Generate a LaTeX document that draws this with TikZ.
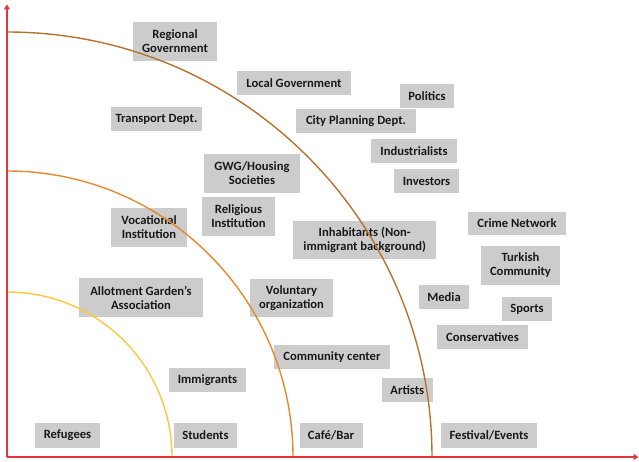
\documentclass[tikz,border=0pt]{standalone}
\usepackage{fontspec}
\setmainfont{Carlito}
\usetikzlibrary{arrows.meta}
\definecolor{boxgray}{RGB}{204,204,204}
\definecolor{txt}{RGB}{25,25,25}
\definecolor{axisred}{RGB}{230,52,60}
\definecolor{ringyellow}{RGB}{255,200,60}
\definecolor{ringorange}{RGB}{232,136,44}
\definecolor{ringbrown}{RGB}{184,114,46}
\tikzset{
  box/.style={fill=boxgray, draw=none, inner sep=0pt, align=center, text=txt,
    font=\fontsize{12.6}{14}\selectfont\bfseries},
  ring/.style={line width=1.4pt},
  axisline/.style={draw=axisred, line width=1.6pt, -{Triangle[length=5pt,width=6pt]}}
}
\newcommand{\bx}[6]{\node[box, minimum width=#4pt, minimum height=#5pt] (#1) at (#2,#3) {#6};}
\begin{document}
\begin{tikzpicture}[x=1pt,y=1pt]
\useasboundingbox (0,0) rectangle (639,461);
\bx{regional}{175}{419.5}{84}{39}{Regional\\Government}
\bx{local}{294}{378}{114}{24}{Local Government}
\bx{transport}{156.5}{342}{91}{24}{Transport Dept.}
\bx{politics}{427}{365}{54}{24}{Politics}
\bx{cityplan}{356}{340}{120}{24}{City Planning Dept.}
\bx{industrial}{414}{310}{86}{24}{Industrialists}
\bx{investors}{426.5}{280}{65}{24}{Investors}
\bx{gwg}{252}{287.5}{96}{39}{GWG/Housing\\Societies}
\bx{vocational}{149}{233.5}{76}{39}{Vocational\\Institution}
\bx{religious}{238.5}{244.5}{73}{39}{Religious\\Institution}
\bx{inhabitants}{364.7}{221}{143}{38}{Inhabitants (Non-\\immigrant background)}
\bx{crime}{517}{237.5}{98}{23}{Crime Network}
\bx{turkish}{520.5}{195.5}{79}{39}{Turkish\\Community}
\bx{media}{444}{164}{50}{24}{Media}
\bx{sports}{527}{152}{50}{24}{Sports}
\bx{conservatives}{482.5}{124}{91}{24}{Conservatives}
\bx{allotment}{141}{163.5}{124}{39}{Allotment Garden’s\\Association}
\bx{voluntary}{291.5}{163}{83}{38}{Voluntary\\organization}
\bx{community}{332}{104}{116}{24}{Community center}
\bx{immigrants}{207.5}{81}{77}{24}{Immigrants}
\bx{artists}{407.3}{71}{51}{24}{Artists}
\bx{refugees}{67.5}{25.5}{65}{25}{Refugees}
\bx{students}{205.5}{25.5}{63}{25}{Students}
\bx{cafe}{331}{25.5}{63}{25}{Café/Bar}
\bx{festival}{489}{25.5}{96}{25}{Festival/Events}
% rings
\coordinate (O) at (7,4);
\draw[ring, ringyellow] (172,4) arc[start angle=0, end angle=90, radius=165];
\draw[ring, ringorange] (293,4) arc[start angle=0, end angle=90, radius=286];
\draw[ring, ringbrown] (432,4) arc[start angle=0, end angle=90, radius=425];
% axes
\coordinate (ytip) at (7,456.5);
\coordinate (xtip) at (638.5,4);
\draw[axisline] (O) -- (ytip);
\draw[axisline] (O) -- (xtip);
\end{tikzpicture}
\end{document}
